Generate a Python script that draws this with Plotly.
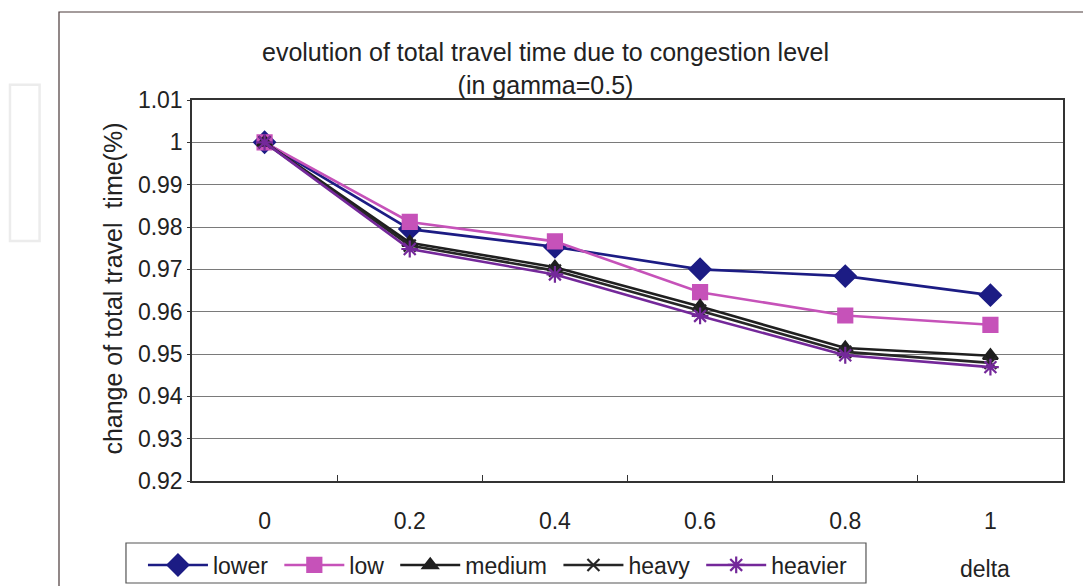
import plotly.graph_objects as go

# delta values along the x axis (category positions)
delta_labels = ["0", "0.2", "0.4", "0.6", "0.8", "1"]
x_pos = [0, 1, 2, 3, 4, 5]

# normalised total travel time per congestion level
lower = [1.0, 0.9795, 0.9753, 0.9700, 0.9684, 0.9639]
low = [1.0, 0.9812, 0.9766, 0.9646, 0.9591, 0.9569]
medium = [1.0, 0.9763, 0.9705, 0.9612, 0.9514, 0.9496]
heavy = [1.0, 0.9756, 0.9697, 0.9602, 0.9505, 0.9479]
heavier = [1.0, 0.9748, 0.9688, 0.9590, 0.9497, 0.9469]

y_ticks = [1.01, 1.0, 0.99, 0.98, 0.97, 0.96, 0.95, 0.94, 0.93, 0.92]
y_tick_text = ["1.01", "1", "0.99", "0.98", "0.97", "0.96", "0.95", "0.94", "0.93", "0.92"]

FONT = "Liberation Sans, Arial, sans-serif"
TXT = "#222222"
PAD = "\u00a0"  # trailing room after each legend label

series = [
    ("lower", lower, "#1c1c84", "diamond", 16),
    ("low", low, "#c652b9", "square", 14),
    ("medium", medium, "#1f1f1f", "triangle-up", 13),
    ("heavy", heavy, "#262626", "x-thin-open", 12),
    ("heavier", heavier, "#74289a", "asterisk-open", 14),
]

fig = go.Figure()
for name, vals, color, sym, size in series:
    fig.add_trace(go.Scatter(
        x=x_pos, y=vals, name=name + PAD, mode="lines+markers",
        line=dict(color=color, width=2.6),
        marker=dict(symbol=sym, size=size, color=color,
                    line=dict(color=color, width=2.2)),
    ))

fig.update_layout(
    width=1083, height=586,
    margin=dict(l=192, r=20, t=100, b=105, autoexpand=False),
    paper_bgcolor="white", plot_bgcolor="white",
    font=dict(family=FONT, size=23, color=TXT),
    showlegend=True,
    legend=dict(
        orientation="h", x=-0.0563, y=-0.164, xanchor="left", yanchor="top",
        borderwidth=0, bgcolor="rgba(0,0,0,0)",
        font=dict(family=FONT, size=23, color=TXT),
        itemwidth=60, tracegroupgap=0,
    ),
)

fig.update_xaxes(
    range=[-0.5, 5.5], tickvals=x_pos, ticktext=delta_labels,
    ticks="", showgrid=False, zeroline=False,
    showline=True, linecolor="#333333", linewidth=1.5, mirror=True,
    ticklabelstandoff=19,
    tickfont=dict(family=FONT, size=23, color=TXT),
    minor=dict(tickvals=[0.5, 1.5, 2.5, 3.5, 4.5], ticks="inside",
               ticklen=6, tickcolor="#333333", showgrid=False),
)
fig.update_yaxes(
    range=[0.92, 1.01], tickvals=y_ticks, ticktext=y_tick_text,
    ticks="outside", ticklen=3, tickcolor="#333333",
    showgrid=True, gridcolor="#7a7a7a", gridwidth=1.2, zeroline=False,
    showline=True, linecolor="#333333", linewidth=1.5, mirror=True,
    ticklabelstandoff=0,
    tickfont=dict(family=FONT, size=23, color=TXT),
)

fig.add_annotation(
    text="evolution of total travel time due to congestion level<br>(in gamma=0.5)",
    xref="paper", yref="paper", x=0.4064, y=1.083, xanchor="center", yanchor="middle",
    showarrow=False, font=dict(family=FONT, size=25, color=TXT),
)
fig.add_annotation(
    text="change of total travel\u00a0\u00a0time(%)",
    xref="paper", yref="paper", x=-0.0907, y=0.505, xanchor="center", yanchor="middle",
    textangle=-90, showarrow=False, font=dict(family=FONT, size=25, color=TXT),
)
fig.add_annotation(
    text="delta", xref="paper", yref="paper", x=0.9105, y=-0.231,
    xanchor="center", yanchor="middle", showarrow=False,
    font=dict(family=FONT, size=23, color=TXT),
)

# legend frame
fig.add_shape(type="rect", xref="paper", yref="paper",
              x0=-0.0758, y0=-0.1627, x1=0.7738, y1=-0.2677,
              line=dict(color="#555555", width=1.2), fillcolor="white", layer="below")
# outer chart-area frame
fig.add_shape(type="rect", xref="paper", yref="paper",
              x0=-0.1527, y0=-0.35, x1=1.06, y1=1.231,
              line=dict(color="#4a3a3a", width=1.2), layer="below")
# faint side panels at the left edge of the page
fig.add_shape(type="rect", xref="paper", yref="paper",
              x0=-0.209, y0=0.63, x1=-0.175, y1=1.04,
              line=dict(color="#ececec", width=2.5), layer="below")

fig.write_html("out.html")
